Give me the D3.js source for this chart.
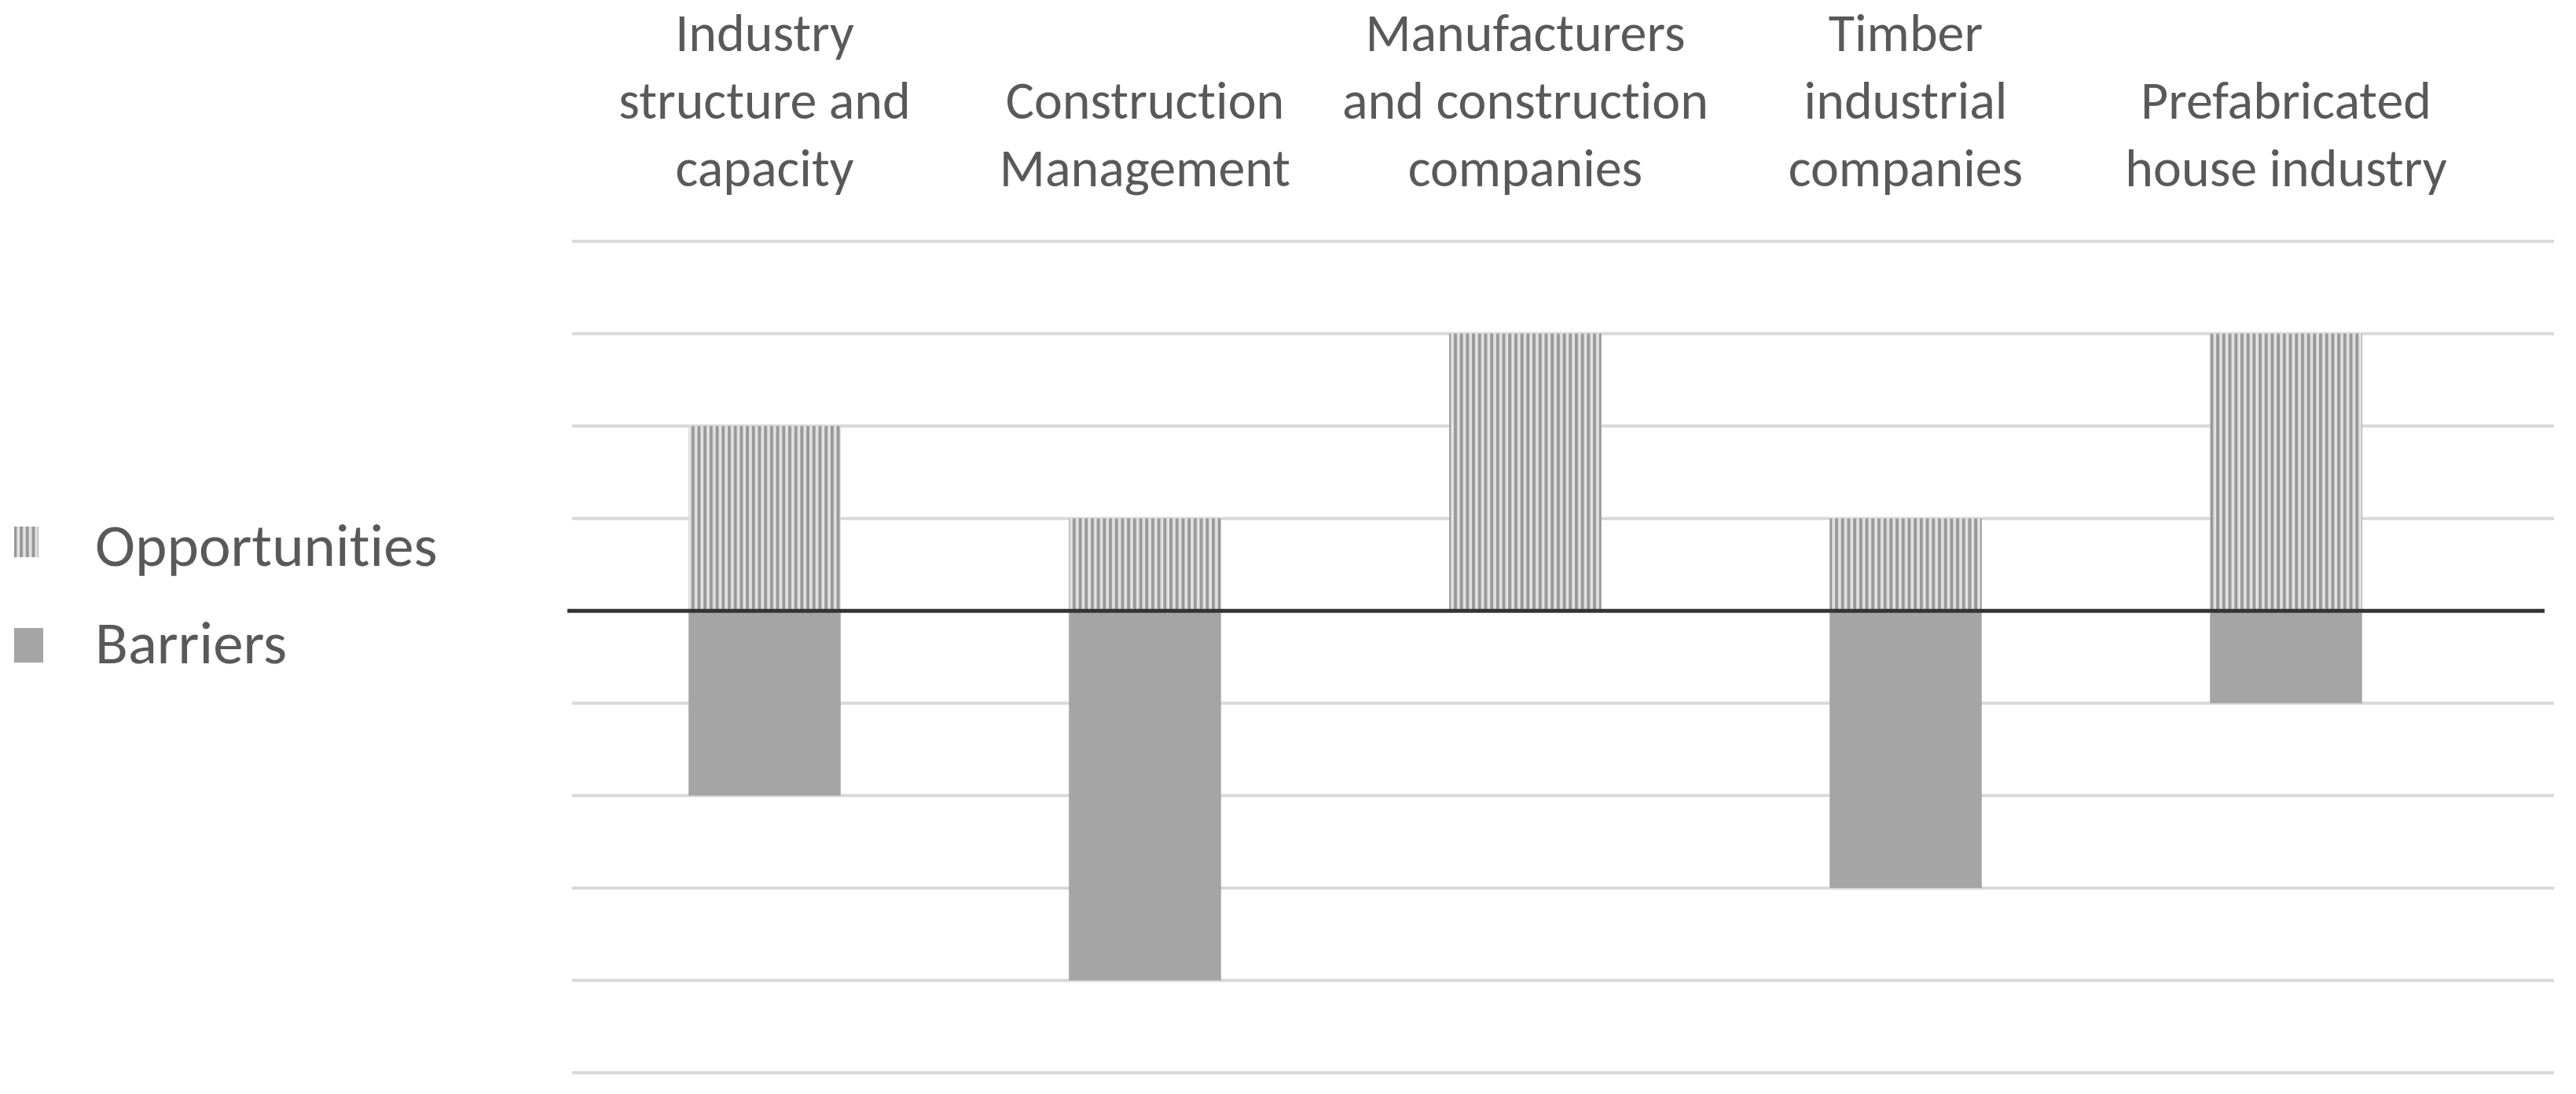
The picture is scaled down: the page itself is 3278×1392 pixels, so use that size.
<!DOCTYPE html>
<html>
<head>
<meta charset="utf-8">
<script src="https://cdn.jsdelivr.net/npm/d3@7"></script>
<style>
  body { margin: 0; background: #fff; }
  text { font-family: Carlito, Lato, "Noto Sans", sans-serif; fill: #595959; font-variant-ligatures: none; }
</style>
</head>
<body>
<svg id="chart" width="3278" height="1392"></svg>
<script>
  // categories, each split into label lines
  const categories = [
    ["Industry", "structure and", "capacity"],
    ["Construction", "Management"],
    ["Manufacturers", "and construction", "companies"],
    ["Timber", "industrial", "companies"],
    ["Prefabricated", "house industry"]
  ];
  const opportunities = [2, 1, 3, 1, 3];
  const barriers = [-2, -4, 0, -3, -1];
  const yTicks = [-5, -4, -3, -2, -1, 0, 1, 2, 3, 4];
  const seriesNames = ["Opportunities", "Barriers"];

  const svg = d3.select("#chart");
  const ids = categories.map((c, i) => "c" + i);

  const x = d3.scaleBand()
    .domain(ids)
    .range([731, 3151])
    .paddingInner(0.6)
    .paddingOuter(0.3);

  const y = d3.scaleLinear()
    .domain([-5, 4])
    .range([1365, 307]);

  // vertical stripe pattern
  const defs = svg.append("defs");
  const pat = defs.append("pattern")
    .attr("id", "vstripe")
    .attr("patternUnits", "userSpaceOnUse")
    .attr("width", 7.7)
    .attr("height", 10);
  pat.append("rect").attr("width", 7.7).attr("height", 10).attr("fill", "#e2e2e2");
  pat.append("rect").attr("x", 2).attr("width", 4).attr("height", 10).attr("fill", "#999999");

  // gridlines
  svg.append("g")
    .selectAll("line")
    .data(yTicks.filter(d => d !== 0))
    .enter().append("line")
      .attr("x1", 728)
      .attr("x2", 3250)
      .attr("y1", d => y(d))
      .attr("y2", d => y(d))
      .attr("stroke", "#d9d9d9")
      .attr("stroke-width", 4);

  const data = ids.map((id, i) => ({ id: id, opp: opportunities[i], bar: barriers[i] }));

  svg.append("g")
    .selectAll("rect")
    .data(data.filter(d => d.opp !== 0))
    .enter().append("rect")
      .attr("x", d => x(d.id))
      .attr("width", x.bandwidth())
      .attr("y", d => y(d.opp))
      .attr("height", d => y(0) - y(d.opp))
      .attr("fill", "url(#vstripe)");

  svg.append("g")
    .selectAll("rect")
    .data(data.filter(d => d.bar !== 0))
    .enter().append("rect")
      .attr("x", d => x(d.id))
      .attr("width", x.bandwidth())
      .attr("y", y(0))
      .attr("height", d => y(d.bar) - y(0))
      .attr("fill", "#a5a5a5");

  // zero line
  svg.append("line")
    .attr("x1", 722)
    .attr("x2", 3238)
    .attr("y1", y(0))
    .attr("y2", y(0))
    .attr("stroke", "#333333")
    .attr("stroke-width", 5);

  // category labels along the top, bottom aligned
  const lineH = 86;
  const lastBase = 237;
  svg.append("g")
    .selectAll("text")
    .data(categories)
    .enter().append("text")
      .attr("text-anchor", "middle")
      .attr("font-size", 68)
      .each(function(lines, i) {
        const t = d3.select(this);
        lines.forEach((ln, j) => {
          t.append("tspan")
            .attr("x", x(ids[i]) + x.bandwidth() / 2)
            .attr("y", lastBase - (lines.length - 1 - j) * lineH)
            .text(ln);
        });
      });

  // legend
  const legend = svg.append("g");
  const legY = [670, 799];
  legend.selectAll("rect")
    .data(seriesNames)
    .enter().append("rect")
      .attr("x", 18)
      .attr("y", (d, i) => legY[i])
      .attr("width", (d, i) => i === 0 ? 31 : 37)
      .attr("height", (d, i) => i === 0 ? 39 : 44)
      .attr("fill", (d, i) => i === 0 ? "url(#vstripe)" : "#a5a5a5");
  legend.selectAll("text")
    .data(seriesNames)
    .enter().append("text")
      .attr("x", 121)
      .attr("y", (d, i) => legY[i] + (i === 0 ? 50 : 45))
      .attr("font-size", 77)
      .text(d => d);
</script>
</body>
</html>
